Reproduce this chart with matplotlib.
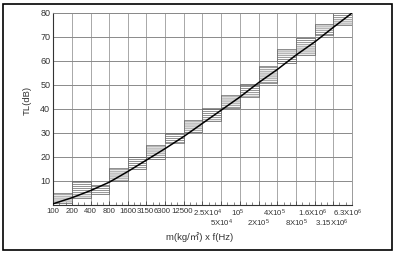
import matplotlib
matplotlib.use("Agg")
import matplotlib.pyplot as plt
from matplotlib.patches import Rectangle
from matplotlib.transforms import ScaledTranslation

# ---- data ----
band_edges = [100, 200, 400, 800, 1600, 3150, 6300, 12500, 25000, 50000,
              1e5, 2e5, 4e5, 8e5, 1.6e6, 3.15e6, 6.3e6]
tick_labels = ["100", "200", "400", "800", "1600", "3150", "6300", "12500",
               r"2.5X10$^4$", r"5X10$^4$", r"10$^5$", r"2X10$^5$",
               r"4X10$^5$", r"8X10$^5$", r"1.6X10$^6$", r"3.15X10$^6$",
               r"6.3X10$^6$"]
second_row = [9, 11, 13, 15]
curve_tl = [0.5, 3, 6, 9.5, 14, 18.7, 23.5, 28.5, 34, 39.5, 45, 51, 56.5,
            62.5, 68, 74, 80]
box_low = [1, 3, 4.5, 10, 15, 19, 26, 30.5, 35, 40.5, 45, 51, 59, 62.5, 71, 75]
box_high = [5, 10, 8.5, 15.5, 20, 25, 30, 35.5, 40.5, 46, 50.5, 58, 65, 69.5, 75.5, 80]

plt.rcParams['hatch.linewidth'] = 0.5
plt.rcParams['hatch.color'] = '#666666'
plt.rcParams['font.family'] = ['Liberation Sans', 'DejaVu Sans', 'Noto Sans CJK KR']
plt.rcParams['mathtext.fontset'] = 'custom'
plt.rcParams['mathtext.rm'] = 'Liberation Sans'
plt.rcParams['mathtext.it'] = 'Liberation Sans'

fig = plt.figure(figsize=(3.96, 2.54), dpi=100)
ax = fig.add_axes([53/396, 1-205/254, (352-53)/396, (205-13)/254])
ax.set_xscale('log')
ax.set_xlim(band_edges[0], band_edges[-1])
ax.set_ylim(0, 80)

# grid
for v in band_edges:
    ax.axvline(v, color='#9a9a9a', lw=0.6, zorder=1)
for h in range(10, 90, 10):
    ax.axhline(h, color='#8a8a8a', lw=0.7, zorder=1)

# hatched boxes
lefts = band_edges[:-1]
widths = [band_edges[i+1] - band_edges[i] for i in range(len(lefts))]
heights = [h - l for l, h in zip(box_low, box_high)]
ax.bar(lefts, heights, width=widths, bottom=box_low, align='edge',
       fill=False, hatch='--------', edgecolor='#666666', linewidth=0.5, zorder=2)

# curve
ax.plot(band_edges, curve_tl, color='black', lw=1.1, zorder=3)

ax.set_xticks(band_edges)
ax.set_xticklabels(tick_labels, fontsize=5.6, color='#333333')
minor = []
for i in range(len(band_edges) - 1):
    a, b = band_edges[i], band_edges[i+1]
    r = (b / a) ** (1/3)
    minor += [a * r, a * r * r]
ax.set_xticks(minor, minor=True)
ax.set_xticklabels([""] * len(minor), minor=True)
ax.tick_params(axis='x', which='major', direction='in', length=3, width=0.5,
               pad=2, colors='#333333')
ax.tick_params(axis='x', which='minor', direction='in', length=2, width=0.5,
               colors='#555555')
ticks = ax.xaxis.get_major_ticks()
for i in second_row:
    ticks[i].set_pad(9.5)
shifts = {5: -0.5, 6: -1.8, 7: -1.0, 8: 3.8, 10: -1.5, 12: -2, 14: -1.5, 15: -1, 16: -3}
for i, dx in shifts.items():
    lab = ticks[i].label1
    lab.set_transform(lab.get_transform() + ScaledTranslation(dx/72, 0, fig.dpi_scale_trans))

ax.set_yticks(range(10, 90, 10))
ax.set_yticklabels([str(v) for v in range(10, 90, 10)], fontsize=6.5, color='#333333')
ax.tick_params(axis='y', direction='in', length=0, pad=2)

for s in ['left', 'bottom']:
    ax.spines[s].set_color('#333333')
    ax.spines[s].set_linewidth(0.8)
for s in ['top', 'right']:
    ax.spines[s].set_color('#8a8a8a')
    ax.spines[s].set_linewidth(0.6)

fig.text(27/396, 1-100/254, "TL(dB)", rotation=90, ha='center', va='center',
         fontsize=6.8, color='#333333')
fig.text(200/396, 1-237/254, "m(kg/㎡) x f(Hz)", ha='center', va='center',
         fontsize=6.8, color='#333333')

fig.patches.append(Rectangle((3/396, 4/254), 389/396, 246/254, transform=fig.transFigure,
                             fill=False, edgecolor='black', lw=1.2))

fig.savefig("out.png", dpi=100)
